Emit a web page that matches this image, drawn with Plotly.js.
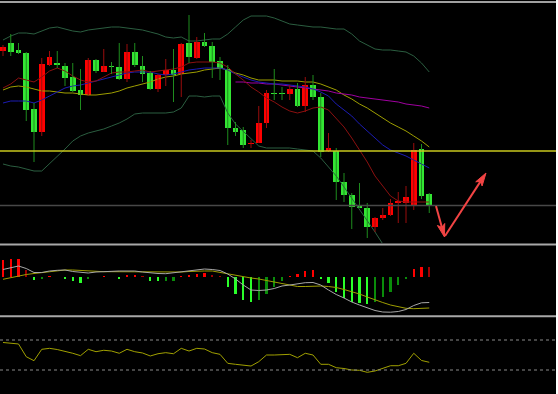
<!DOCTYPE html>
<html><head><meta charset="utf-8">
<script src="https://cdn.plot.ly/plotly-3.0.1.min.js"></script>
<style>html,body{margin:0;padding:0;background:#000;overflow:hidden}#chart{width:558px;height:394px}</style>
</head><body><div id="chart"></div>
<script>
// ---- price candles (arbitrary price units) ----
const openP  = [199,207,200,197,141,118,185,187,184,173,160,155,190,178,184,183,171,198,184,177,161,175,180,176,207,192,208,204,189,181,122,120,106,107,127,157,157,156,161,144,165,153,99,99,68,55,44,42,23,32,35,47,47,44,101,56];
const highP  = [205,216,207,198,147,192,199,199,187,187,181,192,191,201,188,207,206,207,194,179,176,191,201,207,235,213,217,208,193,185,128,123,110,144,160,181,163,165,167,173,175,157,117,102,77,57,67,47,33,42,51,58,64,107,106,57];
const lowP   = [194,194,196,129,88,114,184,182,164,158,140,154,177,178,176,170,168,183,168,160,158,164,148,153,187,191,203,172,170,105,114,102,102,107,122,150,150,150,143,138,150,93,98,50,48,21,42,12,18,30,34,27,27,40,51,37];
const closeP = [203,198,197,140,118,186,193,185,172,159,155,190,179,184,183,171,198,185,176,161,175,180,175,206,193,208,204,188,181,122,118,105,107,127,157,156,156,161,144,165,153,98,102,68,55,43,42,23,32,35,47,49,53,100,54,45];

// ---- main-panel indicators ----
const bbUpper = [210,214,217,217,216,219,222,223,221,219,218,220,221,222,223,223,222,221,220,218,216,213,212,213,209,209,210,211,211,216,223,230,234,234,234,232,229,226,225,224,223,223,222,221,221,216,209,205,201,200,200,199,198,194,187,178];
const bbLower = [86,84,83,81,79,79,86,93,101,109,114,117,119,121,124,127,131,136,137,137,137,137,138,142,154,154,153,154,154,137,126,119,112,104,102,102,102,102,101,100,99,92,83,74,63,52,41,30,18,6,-6,-16,-24,-30,-34,-38];
const maRed   = [162,166,172,170,168,173,179,182,179,174,170,168,169,173,177,178,178,179,180,178,179,180,181,183,187,188,188,188,187,183,176,170,163,158,152,148,143,139,137,139,142,143,140,132,123,112,100,88,74,64,54,49,48,48,48,48];
const maBlue  = [147,149,149,149,147,150,154,158,162,164,165,167,169,171,173,175,177,178,178,178,176,175,176,178,180,181,182,182,182,180,176,173,170,168,167,166,166,165,164,163,161,158,154,146,140,134,126,119,112,105,100,97,94,90,86,82];
const maOlive = [160,163,164,163,161,159,159,158,157,157,156,155,155,156,157,159,162,164,166,168,171,173,174,176,177,178,180,181,182,180,177,175,172,170,170,170,169,169,169,168,168,166,163,160,155,151,146,142,137,132,127,123,119,114,109,103];
const maPurple= [null,null,null,null,null,null,null,null,null,null,null,null,null,null,null,null,null,null,null,null,null,null,null,null,null,null,null,null,null,null,168,168,167,167,166,166,165,164,163,162,161,160,159,157,156,155,153,152,151,150,149,148,146,145,144,142];
const levelYellow = 99;
const levelGray = 44.5;

// ---- MACD / OsMA panel ----
const osma   = [17.5,18,18.3,7.7,-2.3,-1.3,1.3,0.6,-1.7,-4,-5.7,-1.7,0.6,1,0.8,-1.3,2.3,2.5,1,-3.7,-4,-3.7,-3.5,1,2.3,3.7,4.7,2.3,1,-9.7,-16.3,-23,-24.7,-23,-16.3,-9.5,-3.3,1.5,3.3,6.7,7,-1.7,-6,-14.3,-20.3,-25,-26,-27,-25,-20,-14.3,-7.7,-2,8.7,10.7,10.3];
const macdMain = [7.8,9.8,11.3,8.8,4.8,4.8,6.3,7,7.3,5.8,4.8,4.3,5.3,5.8,6.3,6.3,6.3,6.3,5.3,4.3,3.8,3.6,4.6,5.8,7,7.8,8.3,7.8,6.8,3.3,-1.7,-7.7,-12.7,-13.2,-12.7,-11.2,-8.7,-7.7,-6.7,-5.4,-5.2,-7.7,-12.7,-17.2,-20.7,-24.7,-27.7,-30.7,-33.2,-34.7,-34.9,-34.2,-32.2,-28.2,-25.5,-25.2];
const macdSignal = [-2,-0.2,1.3,2.8,3.8,4.8,5.8,7,7.3,7.3,6.8,6,5.6,5.6,5.6,5.6,5.6,5.3,5,5,5.1,5.3,5.3,5.3,5.8,6.3,6.3,6.3,4.8,3.3,1.6,0.3,-0.7,-1.7,-3.2,-4.7,-6.7,-8.2,-9.2,-9.2,-8.7,-8.7,-9.2,-10.2,-12.2,-14.2,-16.7,-19.7,-22.7,-25.2,-27.7,-29.7,-31,-31.4,-31.2,-30.7];

// ---- RSI panel ----
const rsi = [66.7,66,64.7,47.7,42.4,57.6,58.9,57.3,55.3,52.3,49.1,57.6,54.4,56.3,55.3,52.3,57.6,54.4,52.7,48.7,51.7,53.1,51.7,58.9,55.3,58.9,58,53.1,50.9,38.9,37.6,36.7,35.3,41.1,50,50,50,50.9,46.4,52.3,50,37.6,37.6,33.1,32,30,29.6,26.9,28.7,32.3,35.7,35.7,38.9,52.3,42.7,40.3];
const rsiLevels = [70, 30];

const n = openP.length;
const xs = openP.map((_, i) => i);

// bodies
const up = openP.map((o, i) => closeP[i] > o);
const bodyBase = openP.map((o, i) => Math.min(o, closeP[i]));
const bodyH = openP.map((o, i) => Math.max(Math.abs(closeP[i] - o), 0.9));
const bodyCol = up.map(u => u ? '#ff0000' : '#33e633');

function wicks(sel) {
  const x = [], y = [];
  for (let i = 0; i < n; i++) if (sel(i)) { x.push(i, i, null); y.push(lowP[i], highP[i], null); }
  return {x, y};
}
const wUp = wicks(i => up[i]), wDn = wicks(i => !up[i]);

const osmaCol = osma.map((v, i) => {
  const prev = i > 0 ? osma[i - 1] : v - 0.1;
  if (v >= 0) return v >= prev ? '#ff0000' : '#a00000';
  return v <= prev ? '#2aff2a' : '#0a8c0a';
});

const line = (y, color, ya, w) => ({type:'scatter', mode:'lines', x: xs, y, xaxis:'x', yaxis: ya,
  line:{color, width: w || 1}, hoverinfo:'skip', showlegend:false, connectgaps:false});

const traces = [
  line(bbUpper, '#2b5e40', 'y'),
  line(bbLower, '#2b5e40', 'y'),
  line(maOlive, '#9e9e00', 'y'),
  line(maPurple, '#a000a0', 'y'),
  line(maBlue, '#1c1cb4', 'y'),
  line(maRed, '#8c1010', 'y'),
  {type:'scatter', mode:'lines', x:wUp.x, y:wUp.y, xaxis:'x', yaxis:'y', line:{color:'#9a0c0c', width:1}, showlegend:false, hoverinfo:'skip'},
  {type:'scatter', mode:'lines', x:wDn.x, y:wDn.y, xaxis:'x', yaxis:'y', line:{color:'#1e8c1e', width:1}, showlegend:false, hoverinfo:'skip'},
  {type:'bar', x: xs, y: bodyH, base: bodyBase, width: 0.72, xaxis:'x', yaxis:'y',
   marker:{color: bodyCol, line:{width:0}}, showlegend:false, hoverinfo:'skip'},
  {type:'bar', x: xs, y: osma, width: 0.28, xaxis:'x', yaxis:'y2',
   marker:{color: osmaCol, line:{width:0}}, showlegend:false, hoverinfo:'skip'},
  line(macdSignal, '#9e9e00', 'y2'),
  line(macdMain, '#a8a8a8', 'y2'),
  line(rsi, '#a0a000', 'y3')
];

const W = 558, H = 394;
const py = p => (H - p) / H;
const pxX = p => p / W;

// hand-drawn forecast arrows (pixel geometry, converted to paper coords)
const arrowCol = '#f24444';
function arrowShapes(tx, ty, hx, hy) {
  const dx = hx - tx, dy = hy - ty, L = Math.hypot(dx, dy);
  const ux = dx / L, uy = dy / L, qx = -uy, qy = ux;
  const hl = 13, hw = 3.8, notch = 10;
  const bx = hx - hl * ux, by = hy - hl * uy;
  const nx = hx - notch * ux, ny = hy - notch * uy;
  const P = (x, y) => pxX(x).toFixed(5) + ',' + py(y).toFixed(5);
  return [
    {type:'line', xref:'paper', yref:'paper', x0:pxX(tx), y0:py(ty), x1:pxX(nx), y1:py(ny), line:{color:arrowCol, width:2}},
    {type:'path', xref:'paper', yref:'paper', path:'M' + P(hx, hy) + ' L' + P(bx + hw*qx, by + hw*qy) + ' L' + P(nx, ny) + ' L' + P(bx - hw*qx, by - hw*qy) + ' Z',
     fillcolor:arrowCol, line:{color:arrowCol, width:1}}
  ];
}

const shapes = [
  {type:'line', xref:'paper', x0:0, x1:1, yref:'y', y0:levelYellow, y1:levelYellow, line:{color:'#c8c81e', width:1.5}},
  {type:'line', xref:'paper', x0:0, x1:1, yref:'y', y0:levelGray, y1:levelGray, line:{color:'#484848', width:1.5}},
  {type:'line', xref:'paper', x0:0, x1:1, yref:'paper', y0:py(244.6), y1:py(244.6), line:{color:'#a8a8a8', width:2}},
  {type:'line', xref:'paper', x0:0, x1:1, yref:'paper', y0:py(316.2), y1:py(316.2), line:{color:'#a8a8a8', width:2}},
  {type:'line', xref:'paper', x0:0, x1:1, yref:'paper', y0:py(2), y1:py(2), line:{color:'#a0a0a0', width:2}},
  {type:'rect', xref:'paper', x0:556/558, x1:1, yref:'paper', y0:0, y1:1, fillcolor:'#ffffff', line:{width:0}}
].concat(rsiLevels.map(v => ({type:'line', xref:'paper', x0:0, x1:556/558, yref:'y3', y0:v, y1:v, line:{color:'#8a8a8a', width:1, dash:'dot'}})))
 .concat(arrowShapes(436, 206, 444.5, 237))
 .concat(arrowShapes(445, 236, 486, 173));

const hidden = {visible:false, showgrid:false, zeroline:false, fixedrange:true};
const layout = {
  width:558, height:394,
  margin:{l:0, r:0, t:0, b:0, pad:0},
  paper_bgcolor:'#000', plot_bgcolor:'#000',
  showlegend:false, barmode:'overlay', bargap:0,
  xaxis: Object.assign({}, hidden, {range:[-0.387, 71.613], anchor:'y3'}),
  yaxis: Object.assign({}, hidden, {domain:[py(243), py(3)], range:[7, 247]}),
  yaxis2: Object.assign({}, hidden, {domain:[py(316), py(245)], range:[-38.7, 32.3]}),
  yaxis3: Object.assign({}, hidden, {domain:[py(392.5), py(317.5)], range:[0, 100]}),
  shapes
};
Plotly.newPlot('chart', traces, layout, {staticPlot:true, displayModeBar:false});
</script>
</body></html>
